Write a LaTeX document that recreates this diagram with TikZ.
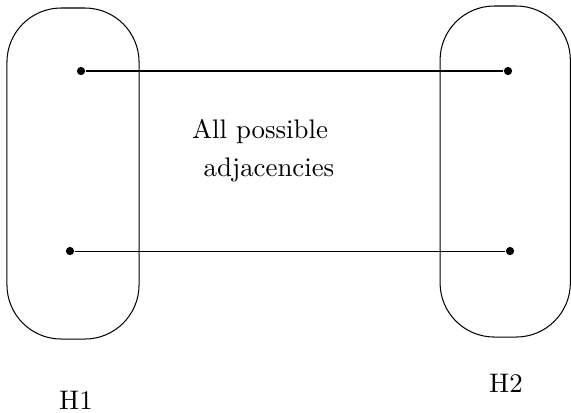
\documentclass[tikz,border=0pt]{standalone}
\begin{document}
\begin{tikzpicture}[x=0.3876pt,y=-0.3876pt,
  blob/.style={draw,rounded corners=21pt,inner sep=0pt,minimum width=51.2pt,minimum height=128.3pt},
  vtx/.style={circle,fill=black,inner sep=0pt,minimum size=3.2pt},
  lbl/.style={anchor=base,inner sep=0pt,scale=1.04}]
\useasboundingbox (0,0) rectangle (571,412);
\node[blob] (B1) at (73,173.5) {};
\node[blob,minimum width=50.5pt] (B2) at (505.2,171.5) {};
\node[vtx] (a1) at (81,71) {};
\node[vtx] (b1) at (508,71) {};
\node[vtx] (a2) at (70,251) {};
\node[vtx] (b2) at (510,251) {};
\draw (a1) -- (b1);
\draw (a2) -- (b2);
\node[lbl] (t1) at (260,138) {All possible};
\node[lbl] (t2) at (269,176) {adjacencies};
\node[lbl] (h1) at (76,409) {H1};
\node[lbl] (h2) at (506,392) {H2};
\end{tikzpicture}
\end{document}
